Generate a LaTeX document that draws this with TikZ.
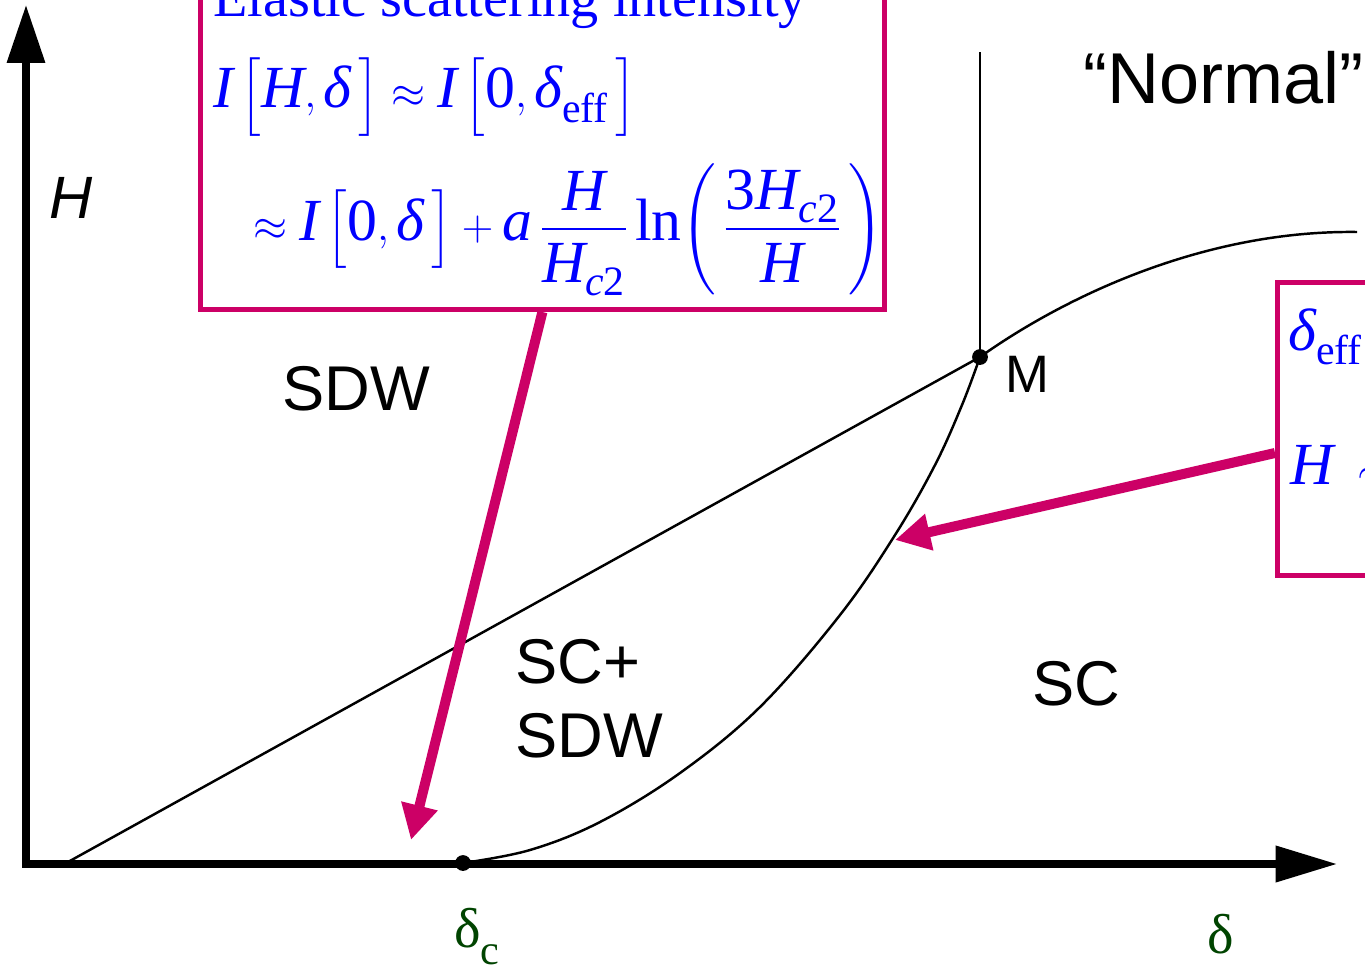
\documentclass[tikz,border=0pt]{standalone}
\usepackage{amsmath}
\usepackage{fontspec}
\setmainfont{Liberation Serif}
\setsansfont{Liberation Sans}
\usetikzlibrary{arrows.meta, positioning, calc}
\definecolor{boxpink}{RGB}{204, 0, 102}
\definecolor{mathblue}{RGB}{0, 0, 255}
\definecolor{labelgreen}{RGB}{0, 68, 0}
\newcommand{\vi}[1]{\textit{#1}}
\newcommand{\vu}[1]{\textup{#1}}

\begin{document}
\begin{tikzpicture}[
    x=0.02cm, y=-0.02cm,
    axis/.style={line width=4pt, {Triangle[length=33pt, width=21pt]}-{Triangle[length=35pt, width=20pt]}},
    boundary/.style={line width=1.4pt},
    pinkbox/.style={rectangle, draw=boxpink, fill=white, line width=2.8pt, inner sep=0pt},
    pinkarrow/.style={line width=5.7pt, boxpink, -{Triangle[length=20pt, width=20pt]}},
    phase/.style={font=\sffamily\fontsize{36}{40}\selectfont, inner sep=0pt, anchor=base west},
    eqn/.style={text=mathblue, font=\fontsize{34}{40}\selectfont, inner sep=0pt, anchor=base west},
    dlabel/.style={text=labelgreen, font=\fontsize{32}{36}\selectfont, inner sep=0pt, anchor=base west},
    dot/.style={circle, fill=black, inner sep=0pt, minimum size=9pt}
]
    \useasboundingbox (0,0) rectangle (1365,973);
    \fill[white] (0,0) rectangle (1365,973);
    \clip (0,0) rectangle (1365,973);

    % axes
    \coordinate (origin) at (26,864);
    \coordinate (ytip) at (26,5);
    \coordinate (xtip) at (1337,864);
    \draw[axis] (ytip) -- (origin) -- (xtip);

    % phase boundaries
    \node[dot] (M) at (980,357) {};
    \node[dot] (dc) at (463,863) {};
    \coordinate (lstart) at (68,862);
    \coordinate (vtop) at (980,52);
    \coordinate (rend) at (1357,232);

    \draw[boundary] (lstart) -- (M.center);
    \draw[boundary] (M.center) -- (vtop);
    \draw[boundary] plot[smooth, tension=0.6] coordinates {(dc.center) (530,850) (600,822) (680,773) (760,707) (840,615) (895,535) (935,465) (962,405) (M.center)};
    \draw[boundary] (M.center) .. controls (1060,300) and (1200,230) .. (rend);

    % labels
    \node[phase, font=\sffamily\itshape\fontsize{34}{38}\selectfont] (hlabel) at (49,218) {H};
    \node[phase] (sdw) at (282,410) {SDW};
    \node[phase] (scsdw) at (515,683) {SC+};
    \node[phase] (scsdw2) at (515,757) {SDW};
    \node[phase] (sc) at (1032,705) {SC};
    \node[phase, font=\sffamily\fontsize{30}{34}\selectfont] (mlabel) at (1005,392) {M};
    \node[phase, font=\sffamily\fontsize{41}{46}\selectfont] (normal) at (1083,104) {“Normal”};

    \node[dlabel] (dclabel) at (454,947) {δ{\fontsize{24}{24}\selectfont\raisebox{-10pt}{c}}};
    \node[dlabel] (dlabel) at (1207,953) {δ};

    % boxes
    \node[pinkbox, minimum width=13.68cm, minimum height=7.1cm, anchor=south west] (box1) at (198,312) {};
    \node[pinkbox, minimum width=3cm, minimum height=5.86cm, anchor=north west] (box2) at (1275,280) {};

    \node[eqn, font=\fontsize{32}{38}\selectfont] (eq1) at (213,17) {Elastic scattering intensity};
    \node[eqn] (eq2) at (213,108) {$\vi{I}\,\Big[\vi{H},\vi{δ}\,\Big]\approx\vi{I}\,\Big[\vu{0},\vi{δ}_{\text{eff}}\,\Big]$};
    \node[eqn] (eq3) at (253,240) {$\approx\vi{I}\,\Big[\vu{0},\vi{δ}\,\Big]+\vi{a}\,\dfrac{\vi{H}\vrule depth 3pt width 0pt}{\vrule height 27pt width 0pt\vi{H}_{\vi{c}\vu{2}}}\,\vu{ln}\!\left(\vrule height 40pt depth 30pt width 0pt\,\dfrac{\vu{3}\vi{H}_{\vi{c}\vu{2}}\vrule depth 3pt width 0pt}{\vrule height 27pt width 0pt\vi{H}}\,\right)$};

    \node[eqn] (eq4) at (1288,350) {$\vi{δ}_{\text{eff}}$};
    \node[eqn] (eq5) at (1290,484) {$\vi{H}\;\sim$};

    % arrows
    \coordinate (tip1) at (411,840);
    \coordinate (tip2) at (895,540);
    \draw[pinkarrow] (box1.south) -- (tip1);
    \draw[pinkarrow] ($(box2.north west)+(0,173)$) -- (tip2);
\end{tikzpicture}
\end{document}
